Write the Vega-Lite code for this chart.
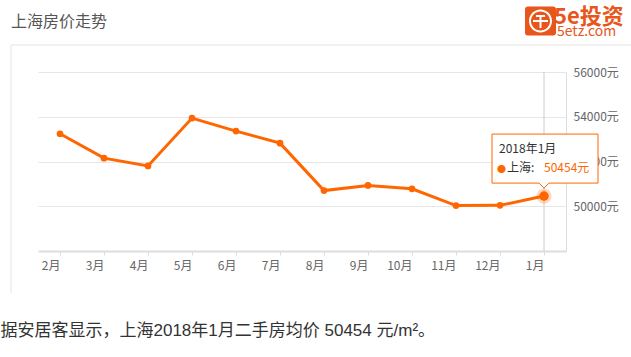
{
  "$schema": "https://vega.github.io/schema/vega-lite/v6.json",
  "width": 528,
  "height": 179,
  "autosize": {"type": "none"},
  "padding": {"left": 38, "top": 72, "right": 65, "bottom": 106},
  "background": "white",
  "config": {"view": {"stroke": null}, "font": "Noto Sans CJK SC"},
  "title": {
    "text": "上海房价走势",
    "anchor": "start",
    "frame": "group",
    "dx": -27,
    "offset": 0,
    "dy": 23,
    "fontSize": 16,
    "fontWeight": "normal",
    "color": "#555555",
    "font": "Noto Sans CJK SC"
  },
  "data": {
    "values": [
      {"month": "2月", "price": 53240},
      {"month": "3月", "price": 52150},
      {"month": "4月", "price": 51800},
      {"month": "5月", "price": 53940},
      {"month": "6月", "price": 53360},
      {"month": "7月", "price": 52820},
      {"month": "8月", "price": 50700},
      {"month": "9月", "price": 50930},
      {"month": "10月", "price": 50780},
      {"month": "11月", "price": 50030},
      {"month": "12月", "price": 50040},
      {"month": "1月", "price": 50454}
    ]
  },
  "layer": [
    {
      "transform": [{"filter": "datum.month == '1月'"}],
      "mark": {"type": "rule", "strokeWidth": 1},
      "encoding": {
        "x": {"field": "month", "type": "ordinal", "sort": null},
        "stroke": {
          "field": "price",
          "type": "quantitative",
          "scale": {"range": ["#cccccc", "#cccccc"]},
          "legend": {
            "orient": "none",
            "legendX": -27,
            "legendY": -27,
            "direction": "horizontal",
            "padding": 0,
            "title": null,
            "gradientLength": 640,
            "gradientThickness": 248,
            "labelOpacity": 0,
            "labelFontSize": 1,
            "labelOffset": 0,
            "encode": {
              "gradient": {
                "update": {
                  "fill": {"value": "transparent"},
                  "stroke": {"value": "#e3e3e3"},
                  "strokeWidth": {"value": 1},
                  "strokeDash": {"value": [888, 640, 248]},
                  "opacity": {"value": 1}
                }
              }
            }
          }
        }
      }
    },
    {
      "mark": {"type": "line", "strokeWidth": 3},
      "encoding": {
        "x": {
          "field": "month",
          "type": "ordinal",
          "sort": null,
          "scale": {"type": "point", "padding": 0.5, "domain": ["2月", "3月", "4月", "5月", "6月", "7月", "8月", "9月", "10月", "11月", "12月", "1月"]},
          "axis": {
            "labelAngle": 0,
            "labelColor": "#666666",
            "labelFontSize": 12,
            "labelPadding": 10,
            "tickColor": "#dddddd",
            "tickSize": 4,
            "domainColor": "#dddddd",
            "domainWidth": 2,
            "grid": false,
            "title": "据安居客显示，上海2018年1月二手房均价 50454 元/m²。",
            "titleFont": "Liberation Sans, Noto Sans CJK SC",
            "titleFontSize": 17,
            "titleFontWeight": "normal",
            "titleColor": "#333333",
            "titleAnchor": "start",
            "titleAlign": "left",
            "titleBaseline": "alphabetic",
            "titleX": -38,
            "titleY": 84
          }
        },
        "y": {
          "field": "price",
          "type": "quantitative",
          "scale": {"domain": [48000, 56000], "nice": false, "zero": false},
          "axis": {
            "orient": "right",
            "values": [50000, 52000, 54000, 56000],
            "labelExpr": "datum.value + '元'",
            "ticks": false,
            "domainColor": "#dddddd",
            "gridColor": "#e6e6e6",
            "labelColor": "#666666",
            "labelFontSize": 12,
            "labelPadding": 7,
            "title": null
          }
        },
        "color": {
          "datum": "5etz.com",
          "scale": {"range": ["#ff6600"]},
          "legend": {
            "orient": "none",
            "legendX": 516,
            "legendY": -65,
            "padding": 0,
            "title": "5e投资",
            "titleFont": "Noto Sans CJK SC",
            "titleFontSize": 22,
            "titleFontWeight": "bold",
            "titleColor": "#e8561b",
            "titlePadding": -4,
            "symbolType": "M-33,-25.5 H-8 Q-5,-25.5 -5,-22.5 V0.5 Q-5,3.5 -8,3.5 H-33 Q-36,3.5 -36,0.5 V-22.5 Q-36,-25.5 -33,-25.5 Z M-9,-11 A11.5,11.5 0 1,0 -32,-11 A11.5,11.5 0 1,0 -9,-11 Z M-11,-11 A9.5,9.5 0 1,1 -30,-11 A9.5,9.5 0 1,1 -11,-11 Z M-28,-12 V-10 H-13 V-12 Z M-25,-17 V-15 H-16 V-17 Z M-21.5,-15 V-12 H-19.5 V-15 Z M-21.5,-10 V-4 H-19.5 V-10 Z",
            "symbolSize": 4,
            "symbolStrokeWidth": 0,
            "labelFont": "Noto Sans CJK SC",
            "labelFontSize": 14,
            "labelColor": "#e8561b",
            "labelOffset": -11,
            "encode": {
              "symbols": {
                "update": {
                  "fill": {"value": "#e8561b"},
                  "stroke": {"value": "transparent"},
                  "opacity": {"value": 1}
                }
              }
            }
          }
        }
      }
    },
    {
      "mark": {"type": "circle", "size": 45, "color": "#ff6600", "opacity": 1},
      "encoding": {
        "x": {"field": "month", "type": "ordinal", "sort": null},
        "y": {"field": "price", "type": "quantitative"}
      }
    },
    {
      "transform": [{"filter": "datum.month == '1月'"}],
      "mark": {"type": "circle", "size": 230, "color": "#ff6600", "opacity": 0.25},
      "encoding": {
        "x": {"field": "month", "type": "ordinal", "sort": null},
        "y": {"field": "price", "type": "quantitative"}
      }
    },
    {
      "transform": [{"filter": "datum.month == '1月'"}],
      "mark": {"type": "circle", "size": 90, "color": "#ff6600", "opacity": 1},
      "encoding": {
        "x": {"field": "month", "type": "ordinal", "sort": null},
        "y": {"field": "price", "type": "quantitative"}
      }
    },
    {
      "transform": [{"filter": "datum.month == '1月'"}],
      "mark": {
        "type": "point",
        "shape": "M-52,-62 H54 V-13 H5 L0,-8 L-5,-13 H-52 Z",
        "size": 4,
        "filled": true,
        "fill": "white",
        "stroke": "#ff6600",
        "strokeWidth": 1,
        "opacity": 1
      },
      "encoding": {
        "x": {"field": "month", "type": "ordinal", "sort": null},
        "y": {"field": "price", "type": "quantitative"}
      }
    },
    {
      "transform": [
        {"filter": "datum.month == '1月'"},
        {"calculate": "'2018年' + datum.month", "as": "label"}
      ],
      "mark": {"type": "text", "align": "left", "baseline": "alphabetic", "dx": -45, "dy": -43, "fontSize": 12, "color": "#333333"},
      "encoding": {
        "x": {"field": "month", "type": "ordinal", "sort": null},
        "y": {"field": "price", "type": "quantitative"},
        "text": {"field": "label"}
      }
    },
    {
      "transform": [{"filter": "datum.month == '1月'"}],
      "mark": {"type": "text", "align": "center", "baseline": "middle", "dx": -42.6, "dy": -27.3, "fontSize": 9, "color": "#ff6600", "text": "●"},
      "encoding": {
        "x": {"field": "month", "type": "ordinal", "sort": null},
        "y": {"field": "price", "type": "quantitative"}
      }
    },
    {
      "transform": [{"filter": "datum.month == '1月'"}],
      "mark": {"type": "text", "align": "left", "baseline": "alphabetic", "dx": -37, "dy": -24, "fontSize": 12, "color": "#333333", "text": "上海:"},
      "encoding": {
        "x": {"field": "month", "type": "ordinal", "sort": null},
        "y": {"field": "price", "type": "quantitative"}
      }
    },
    {
      "transform": [
        {"filter": "datum.month == '1月'"},
        {"calculate": "datum.price + '元'", "as": "vlabel"}
      ],
      "mark": {"type": "text", "align": "left", "baseline": "alphabetic", "dx": 0, "dy": -24, "fontSize": 12, "color": "#ff6600"},
      "encoding": {
        "x": {"field": "month", "type": "ordinal", "sort": null},
        "y": {"field": "price", "type": "quantitative"},
        "text": {"field": "vlabel"}
      }
    }
  ]
}
